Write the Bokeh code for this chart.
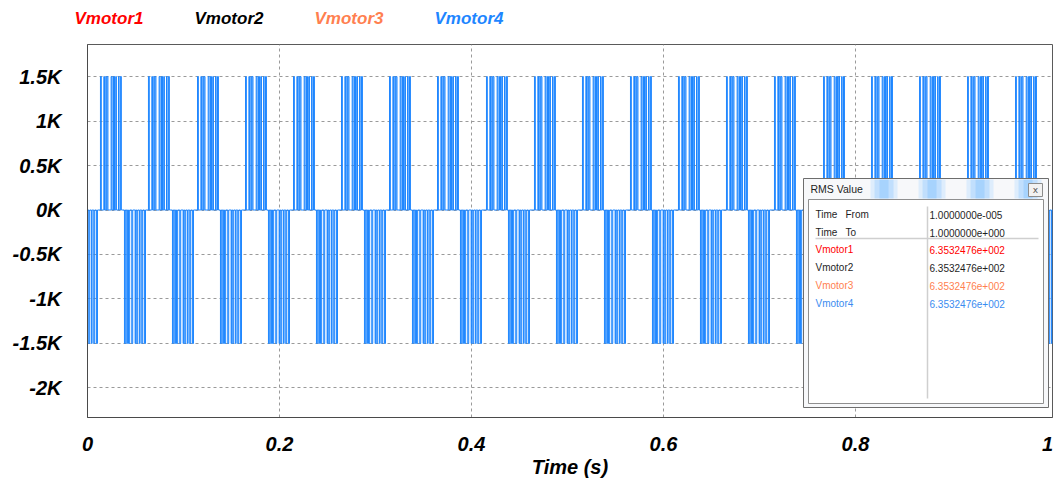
from bokeh.plotting import figure
from bokeh.layouts import column, row
from bokeh.models import FixedTicker, Range1d, ColumnDataSource
from bokeh.embed import file_html
from bokeh.resources import INLINE
from bokeh.core.properties import value

# ---- series / labels -------------------------------------------------------
series_names = ["Vmotor1", "Vmotor2", "Vmotor3", "Vmotor4"]
series_colors = ["#ff0000", "#000000", "#ff7f50", "#1e86ff"]

# DC link level of the inverter output (V)
v_level = 1500.0

# start time (s) of every positive and negative pulse burst
pos_burst_start = [0.0135, 0.0635, 0.1146, 0.1646, 0.2146, 0.2646, 0.3146,
                   0.3646, 0.4156, 0.4656, 0.5156, 0.5656, 0.6156, 0.6656,
                   0.7156, 0.7667, 0.8167, 0.8667, 0.9167, 0.9667]
neg_burst_start = [-0.0115, 0.0385, 0.0885, 0.1385, 0.1885, 0.2385, 0.2885,
                   0.3385, 0.3885, 0.4385, 0.4885, 0.5385, 0.5885, 0.6385,
                   0.6885, 0.7385, 0.7885, 0.8385, 0.8885, 0.9385, 0.9885]

# PWM pulses inside a burst: on / off instants in ms after the burst start
pos_pulse_on_ms = [0.0, 3.5, 5.6, 6.9, 11.1, 13.2, 14.6, 16.0, 18.8, 20.8]
pos_pulse_off_ms = [0.9, 4.2, 6.0, 7.8, 11.9, 13.6, 15.0, 16.6, 19.4, 21.8]
neg_pulse_on_ms = [0.0, 2.4, 4.2, 7.6, 11.1, 12.8, 15.6, 18.0, 20.8]
neg_pulse_off_ms = [0.9, 3.1, 5.4, 8.6, 11.6, 13.8, 16.3, 19.0, 21.9]

x_ticks = [0, 0.2, 0.4, 0.6, 0.8, 1.0]
x_tick_labels = ["0", "0.2", "0.4", "0.6", "0.8", "1"]
y_ticks = [-2000, -1500, -1000, -500, 0, 500, 1000, 1500]
y_tick_labels = ["-2K", "-1.5K", "-1K", "-0.5K", "0K", "0.5K", "1K", "1.5K"]

# RMS measurement window
rms_time_from = 1.0e-5
rms_time_to = 1.0
rms_values = [635.32476, 635.32476, 635.32476, 635.32476]

# ---- build the stepped PWM waveform -----------------------------------------
bursts = [(s, 1.0, pos_pulse_on_ms, pos_pulse_off_ms) for s in pos_burst_start]
bursts += [(s, -1.0, neg_pulse_on_ms, neg_pulse_off_ms) for s in neg_burst_start]
bursts.sort(key=lambda b: b[0])

t_pts, v_pts = [-0.03], [0.0]
for start, sign, ons, offs in bursts:
    for a, b in zip(ons, offs):
        ta, tb = start + a / 1000.0, start + b / 1000.0
        t_pts += [ta, ta, tb, tb]
        v_pts += [0.0, sign * v_level, sign * v_level, 0.0]
t_pts.append(1.02)
v_pts.append(0.0)
wave = ColumnDataSource(dict(t=t_pts, v=v_pts))

# ---- page geometry ----------------------------------------------------------
W, H = 1055, 481
HEAD = 44                      # height of the legend strip
FL, FR, FT, FB = 87, 1052, 44, 417
X_END = 1.0052
Y_TOP, Y_BOT = 1860.0, -2332.0
AX_FONT = "Liberation Sans"


def dx(px):
    return (px - FL) / (FR - FL) * X_END


def dy(py):
    return Y_TOP - (py - FT) / (FB - FT) * (Y_TOP - Y_BOT)


# ---- legend strip above the plot (plain pixel coordinates) ------------------
head = figure(width=W, height=HEAD, output_backend="svg", toolbar_location=None,
              x_range=Range1d(0, W), y_range=Range1d(HEAD, 0),
              x_axis_location=None, y_axis_location=None,
              min_border=0, min_border_left=0, min_border_right=0,
              min_border_top=0, min_border_bottom=0)
head.outline_line_color = None
head.background_fill_color = "white"
head.border_fill_color = "white"
head.xgrid.visible = False
head.ygrid.visible = False
legend_x_px = [74, 194, 314, 434]
head.text(x=legend_x_px, y=[18] * 4, text=series_names,
          text_color=series_colors, text_font=value(AX_FONT),
          text_font_style="bold italic", text_font_size="17px",
          text_align="left", text_baseline="middle")

# ---- main plot --------------------------------------------------------------
p = figure(width=W, height=H - HEAD, output_backend="svg",
           toolbar_location=None,
           x_range=Range1d(0, X_END), y_range=Range1d(Y_BOT, Y_TOP),
           min_border_left=FL, min_border_right=W - FR,
           min_border_top=FT - HEAD, min_border_bottom=H - FB)
p.background_fill_color = "white"
p.border_fill_color = "white"
p.outline_line_color = "#5a5a5a"
p.outline_line_width = 1

for ax in (p.xaxis[0], p.yaxis[0]):
    ax.major_label_text_font = AX_FONT
    ax.major_label_text_font_style = "bold italic"
    ax.major_label_text_font_size = "20px"
    ax.major_label_text_color = "#000000"
    ax.major_tick_line_color = None
    ax.minor_tick_line_color = None
    ax.axis_line_color = "#4a4a4a"

p.xaxis.ticker = FixedTicker(ticks=x_ticks)
p.xaxis.major_label_overrides = {t: s for t, s in zip(x_ticks, x_tick_labels)}
p.xaxis.major_label_standoff = 13
p.xaxis.axis_label = "Time (s)"
p.xaxis.axis_label_text_font = AX_FONT
p.xaxis.axis_label_text_font_style = "bold italic"
p.xaxis.axis_label_text_font_size = "20px"
p.xaxis.axis_label_text_color = "#000000"
p.xaxis.axis_label_standoff = 2

p.yaxis.ticker = FixedTicker(ticks=y_ticks)
p.yaxis.major_label_overrides = {t: s for t, s in zip(y_ticks, y_tick_labels)}
p.yaxis.major_label_standoff = 20

p.xgrid.ticker = FixedTicker(ticks=x_ticks[1:-1])
p.ygrid.ticker = FixedTicker(ticks=y_ticks)
for g in (p.xgrid[0], p.ygrid[0]):
    g.grid_line_color = "#9a9a9a"
    g.grid_line_dash = "3 3"
    g.grid_line_width = 1

# the four motor voltages are identical, so only the last trace (Vmotor4)
# shows on top of the others
p.line("t", "v", source=wave, color=series_colors[-1], line_width=1)


# ---- RMS Value dialog -------------------------------------------------------
def box(x0, x1, y0, y1, fill, line, alpha=1.0, line_alpha=1.0, lw=1):
    p.quad(left=dx(x0), right=dx(x1), top=dy(y0), bottom=dy(y1),
           fill_color=fill, fill_alpha=alpha, line_color=line,
           line_alpha=line_alpha, line_width=lw)


# window frame and glassy title bar
box(803, 1048, 178, 407, "#f7f8fa", "#6d6d6d")
for s in pos_burst_start:
    if s > 0.8:
        bx0 = FL + s * (FR - FL) / X_END
        box(bx0 - 1, bx0 + 26, 179, 198, "#bfe0ff", None, alpha=0.45)
        box(bx0 + 3, bx0 + 22, 179, 198, "#8cc6ff", None, alpha=0.35)
        box(bx0 + 8, bx0 + 17, 179, 198, "#5aaeff", None, alpha=0.25)
box(1028, 1042, 183, 196, "#f2f2f2", "#8c8c8c")
p.text(x=[dx(1035)], y=[dy(189.5)], text=["x"], text_font=value("DejaVu Sans"),
       text_font_size="9px", text_color="#555555", text_align="center",
       text_baseline="middle")
p.text(x=[dx(810)], y=[dy(188)], text=["RMS Value"],
       text_font=value("Liberation Sans"), text_font_size="10.5px",
       text_color="#1e1e1e", text_align="left", text_baseline="middle")

# content panel
box(808, 1043, 199, 403, "#ffffff", "#8f8f8f")
p.line(x=[dx(927), dx(927)], y=[dy(206), dy(398)], line_color="#cfcfcf",
       line_width=1.5)
p.line(x=[dx(815), dx(1038)], y=[dy(238), dy(238)], line_color="#cfcfcf",
       line_width=1.5)


def sci(v):
    mant, exp = f"{v:.7e}".split("e")
    sign = exp[0]
    return f"{mant}e{sign}{int(exp[1:]):03d}"


row_y = [214, 232, 249, 267, 285, 303]
left_col = ["Time", "Time"] + series_names
right_col = [sci(rms_time_from), sci(rms_time_to)] + [sci(v) for v in rms_values]
row_cols = ["#1e1e1e", "#1e1e1e"] + series_colors
row_cols[3] = "#1e1e1e"
row_cols[5] = "#3a8cf0"
rows = ColumnDataSource(dict(
    xl=[dx(815)] * 6, xr=[dx(929)] * 6, y=[dy(r) for r in row_y],
    left=left_col, right=right_col, color=row_cols))
for col in ("left", "right"):
    p.text(x="xl" if col == "left" else "xr", y="y", text=col, source=rows,
           text_color="color", text_font=value("Liberation Sans"),
           text_font_size="10px", text_align="left", text_baseline="middle")
p.text(x=[dx(845), dx(845)], y=[dy(214), dy(232)], text=["From", "To"],
       text_color="#1e1e1e", text_font=value("Liberation Sans"),
       text_font_size="10px", text_align="left", text_baseline="middle")

# the legend strip sits in its own row so its frame keeps the full width
page = column(row(head, spacing=0), p, spacing=0)
open("out.html", "w").write(file_html(page, INLINE))
